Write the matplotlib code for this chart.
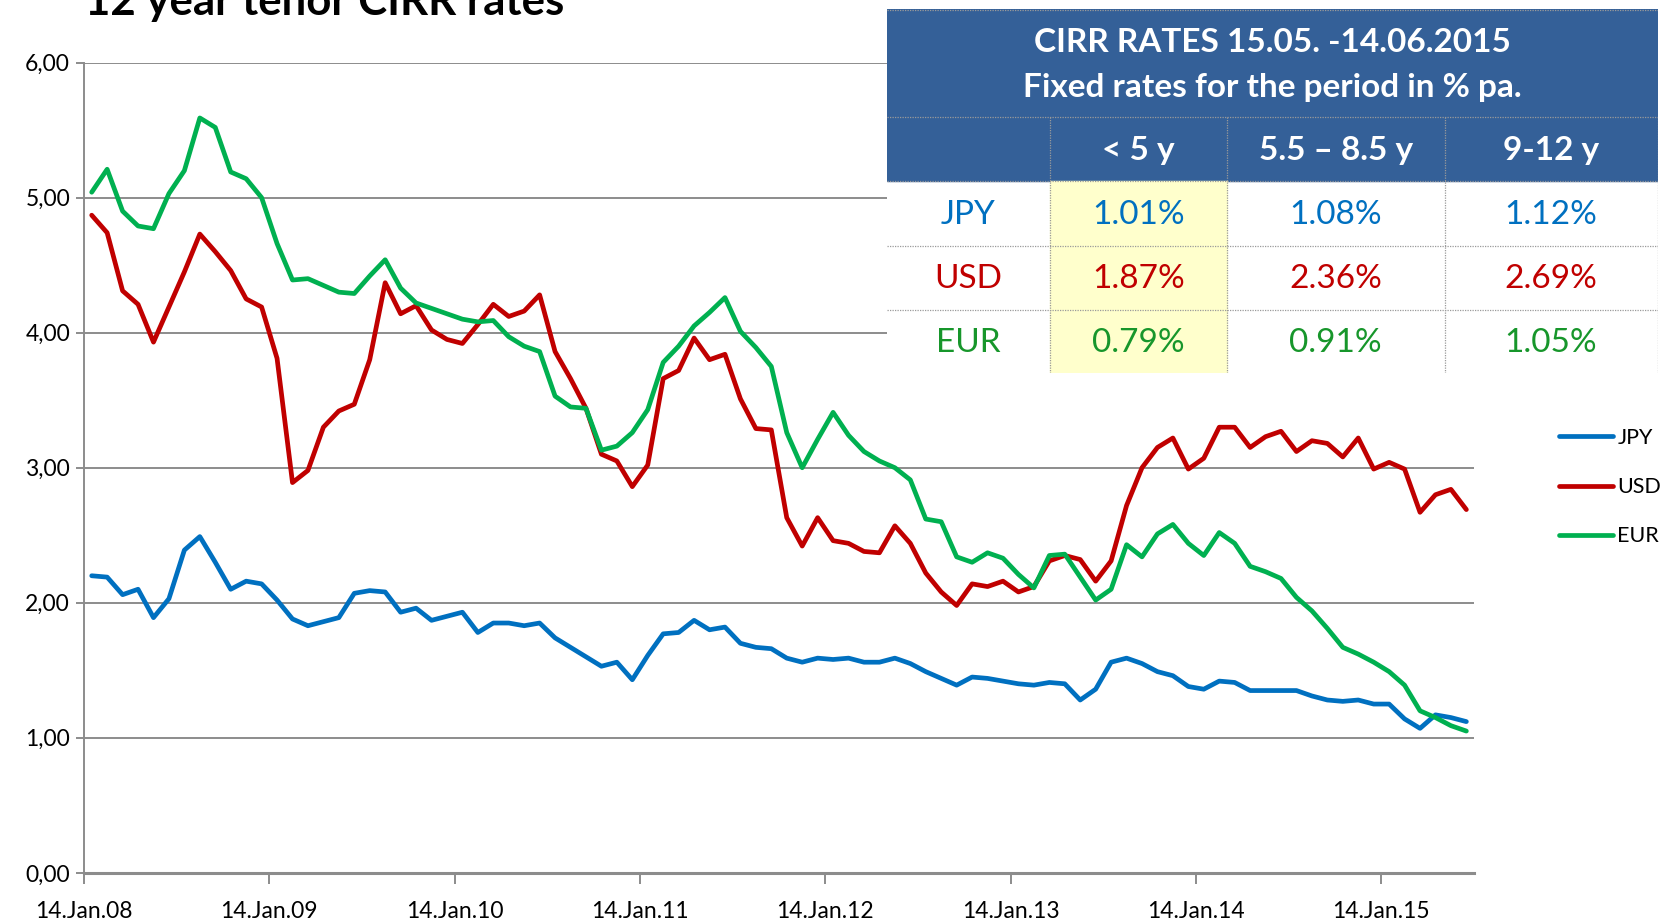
import numpy as np
import matplotlib
matplotlib.use("Agg")
import matplotlib.pyplot as plt
from matplotlib.patches import Rectangle

plt.rcParams['font.family'] = ['Lato', 'DejaVu Sans']

# monthly CIRR rates (12 year tenor), Jan 2008 - Jun 2015
jpy = [2.20, 2.19, 2.06, 2.10, 1.89, 2.03, 2.39, 2.49, 2.30, 2.10, 2.16, 2.14,
       2.02, 1.88, 1.83, 1.86, 1.89, 2.07, 2.09, 2.08, 1.93, 1.96, 1.87, 1.90,
       1.93, 1.78, 1.85, 1.85, 1.83, 1.85, 1.74, 1.67, 1.60, 1.53, 1.56, 1.43,
       1.61, 1.77, 1.78, 1.87, 1.80, 1.82, 1.70, 1.67, 1.66, 1.59, 1.56, 1.59,
       1.58, 1.59, 1.56, 1.56, 1.59, 1.55, 1.49, 1.44, 1.39, 1.45, 1.44, 1.42,
       1.40, 1.39, 1.41, 1.40, 1.28, 1.36, 1.56, 1.59, 1.55, 1.49, 1.46, 1.38,
       1.36, 1.42, 1.41, 1.35, 1.35, 1.35, 1.35, 1.31, 1.28, 1.27, 1.28, 1.25,
       1.25, 1.14, 1.07, 1.17, 1.15, 1.12]
usd = [4.87, 4.74, 4.31, 4.21, 3.93, 4.19, 4.45, 4.73, 4.60, 4.46, 4.25, 4.19,
       3.81, 2.89, 2.98, 3.30, 3.42, 3.47, 3.80, 4.37, 4.14, 4.20, 4.02, 3.95,
       3.92, 4.06, 4.21, 4.12, 4.16, 4.28, 3.86, 3.66, 3.44, 3.10, 3.05, 2.86,
       3.02, 3.66, 3.72, 3.96, 3.80, 3.84, 3.51, 3.29, 3.28, 2.63, 2.42, 2.63,
       2.46, 2.44, 2.38, 2.37, 2.57, 2.44, 2.22, 2.08, 1.98, 2.14, 2.12, 2.16,
       2.08, 2.12, 2.31, 2.35, 2.32, 2.16, 2.31, 2.72, 3.00, 3.15, 3.22, 2.99,
       3.07, 3.30, 3.30, 3.15, 3.23, 3.27, 3.12, 3.20, 3.18, 3.08, 3.22, 2.99,
       3.04, 2.99, 2.67, 2.80, 2.84, 2.69]
eur = [5.04, 5.21, 4.90, 4.79, 4.77, 5.03, 5.20, 5.59, 5.52, 5.19, 5.14, 5.00,
       4.66, 4.39, 4.40, 4.35, 4.30, 4.29, 4.42, 4.54, 4.33, 4.22, 4.18, 4.14,
       4.10, 4.08, 4.09, 3.97, 3.90, 3.86, 3.53, 3.45, 3.44, 3.13, 3.16, 3.26,
       3.43, 3.78, 3.90, 4.05, 4.15, 4.26, 4.01, 3.89, 3.75, 3.26, 3.00, 3.21,
       3.41, 3.24, 3.12, 3.05, 3.00, 2.91, 2.62, 2.60, 2.34, 2.30, 2.37, 2.33,
       2.21, 2.11, 2.35, 2.36, 2.19, 2.02, 2.10, 2.43, 2.34, 2.51, 2.58, 2.44,
       2.35, 2.52, 2.44, 2.27, 2.23, 2.18, 2.04, 1.94, 1.81, 1.67, 1.62, 1.56,
       1.49, 1.39, 1.20, 1.15, 1.09, 1.05]

x_labels = ["14.Jan.08", "14.Jan.09", "14.Jan.10", "14.Jan.11",
            "14.Jan.12", "14.Jan.13", "14.Jan.14", "14.Jan.15"]
y_ticks = [0, 1, 2, 3, 4, 5, 6]

# fixed-rate table
tbl_cols = ["< 5 y", "5.5 \u2013 8.5 y", "9-12 y"]
tbl_rows = ["JPY", "USD", "EUR"]
tbl_vals = [["1.01%", "1.08%", "1.12%"],
            ["1.87%", "2.36%", "2.69%"],
            ["0.79%", "0.91%", "1.05%"]]

line_colors = ["#0070C0", "#C00000", "#00B050"]
text_colors = ["#0070C0", "#C00000", "#17962B"]
grid_grey = "#8C8C8C"

fig = plt.figure(figsize=(16.63, 9.19), dpi=100)
ax = fig.add_axes([0.0505, 0.0502, 0.8359, 0.8817])

x = np.arange(len(jpy)) + 0.5
for name, series, c in zip(tbl_rows, [jpy, usd, eur], line_colors):
    ax.plot(x, series, color=c, lw=3.4, label=name,
            solid_joinstyle='round', solid_capstyle='round')

ax.set_xlim(0, 90)
ax.set_ylim(0, 6)
ax.set_yticks(y_ticks)
ax.set_yticklabels([f"{v:.2f}".replace(".", ",") for v in y_ticks])
ax.set_xticks(np.arange(len(x_labels)) * 12)
ax.set_xticklabels(x_labels)
ax.grid(axis='y', color=grid_grey, lw=1.4)
ax.set_axisbelow(True)
for s in ['top', 'right']:
    ax.spines[s].set_visible(False)
ax.spines['left'].set_color(grid_grey)
ax.spines['left'].set_linewidth(1.4)
ax.spines['bottom'].set_color(grid_grey)
ax.spines['bottom'].set_linewidth(2.2)
ax.tick_params(axis='y', colors=grid_grey, length=6, width=1.4, labelsize=16.5,
               labelcolor='black', pad=4)
ax.tick_params(axis='x', colors=grid_grey, length=8, width=1.4, labelsize=16.5,
               labelcolor='black', pad=12)

ax.legend(loc='center left', bbox_to_anchor=(0.9375, 0.47),
          bbox_transform=fig.transFigure, frameon=False, fontsize=15.5,
          handlelength=2.5, handletextpad=0.2, labelspacing=1.35,
          borderpad=0, borderaxespad=0)

fig.text(85 / 1663, 1 - 15 / 919, "12 year tenor CIRR rates", fontsize=31.5,
         fontweight='bold', va='baseline', ha='left')

# table drawn in pixel units of its own box
W, H = 771, 364.8
tax = fig.add_axes([886.7 / 1663, 1 - 373.3 / 919, W / 1663, H / 919])
tax.set_xlim(0, W)
tax.set_ylim(H, 0)
tax.axis('off')
col_x = [0, 163.3, 340.4, 557.8, W]
row_y = [0, 108.2, 172.9, 237.5, 301.2, H]
blue = "#346098"

tax.add_patch(Rectangle((0, 0), W, H, color='white', zorder=0))
tax.add_patch(Rectangle((0, 0), W, row_y[2], color=blue, zorder=1))
tax.add_patch(Rectangle((col_x[1], row_y[2]), col_x[2] - col_x[1],
                        H - row_y[2], color='#FFFFCC', zorder=1))

dot = dict(color='#9A9A9A', lw=0.9, ls=(0, (1, 1)), zorder=2)
tax.plot([0, W], [1, 1], **dot)
tax.plot([0, W], [row_y[1], row_y[1]], **dot)
for yy in row_y[2:5]:
    tax.plot([0, W], [yy, yy], **dot)
for xx in col_x[1:]:
    tax.plot([xx, xx], [row_y[1], H], **dot)

tax.text(W / 2, 34, "CIRR RATES 15.05. -14.06.2015", color='white',
         fontsize=24, fontweight='bold', ha='center', va='center', zorder=3)
tax.text(W / 2, 79, "Fixed rates for the period in % pa.", color='white',
         fontsize=24, fontweight='bold', ha='center', va='center', zorder=3)
for j, lab in enumerate(tbl_cols):
    cx = (col_x[j + 1] + col_x[j + 2]) / 2
    tax.text(cx, 142, lab, color='white', fontsize=24, fontweight='bold',
             ha='center', va='center', zorder=3)
for i, (lab, vals) in enumerate(zip(tbl_rows, tbl_vals)):
    cy = (row_y[i + 2] + row_y[i + 3]) / 2 + 1
    tax.text((col_x[0] + col_x[1]) / 2, cy, lab, color=text_colors[i],
             fontsize=24, ha='center', va='center', zorder=3)
    for j, v in enumerate(vals):
        cx = (col_x[j + 1] + col_x[j + 2]) / 2
        tax.text(cx, cy, v, color=text_colors[i], fontsize=24,
                 ha='center', va='center', zorder=3)

fig.savefig("out.png", dpi=100)
